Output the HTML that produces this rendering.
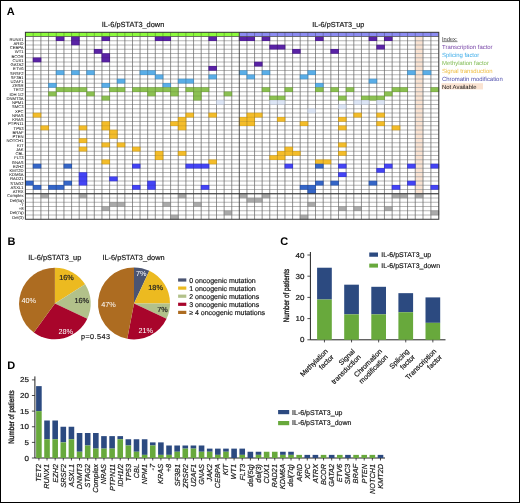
<!DOCTYPE html>
<html><head><meta charset="utf-8"><style>
html,body{margin:0;padding:0;background:#fff;}
#fig{position:relative;width:520px;height:503px;overflow:hidden;font-family:'Liberation Sans', sans-serif;will-change:transform;}
#fig svg{position:absolute;left:0;top:0;}
text{text-rendering:geometricPrecision;}
#frame{position:absolute;left:0;top:0;width:520px;height:503px;box-sizing:border-box;border:1px solid #000;}
</style></head><body>
<div id="fig">
<svg width="520" height="503" viewBox="0 0 520 503" font-family="'Liberation Sans', sans-serif" text-rendering="geometricPrecision">
<rect x="25.4" y="32.3" width="213.9" height="4.200000000000003" fill="#8cfa3c"/>
<rect x="239.3" y="32.3" width="199.5" height="4.200000000000003" fill="#8c8cf2"/>
<rect x="415.25" y="36.5" width="7.75" height="157.25" fill="#fae3d2"/>
<path d="M25.4 40.75H438.80M25.4 45.00H438.80M25.4 49.25H438.80M25.4 53.50H438.80M25.4 57.75H438.80M25.4 62.00H438.80M25.4 66.25H438.80M25.4 70.50H438.80M25.4 74.75H438.80M25.4 79.00H438.80M25.4 83.25H438.80M25.4 87.50H438.80M25.4 91.75H438.80M25.4 96.00H438.80M25.4 100.25H438.80M25.4 104.50H438.80M25.4 108.75H438.80M25.4 113.00H438.80M25.4 117.25H438.80M25.4 121.50H438.80M25.4 125.75H438.80M25.4 130.00H438.80M25.4 134.25H438.80M25.4 138.50H438.80M25.4 142.75H438.80M25.4 147.00H438.80M25.4 151.25H438.80M25.4 155.50H438.80M25.4 159.75H438.80M25.4 164.00H438.80M25.4 168.25H438.80M25.4 172.50H438.80M25.4 176.75H438.80M25.4 181.00H438.80M25.4 185.25H438.80M25.4 189.50H438.80M25.4 193.75H438.80M25.4 198.00H438.80M25.4 202.25H438.80M25.4 206.50H438.80M25.4 210.75H438.80M25.4 215.00H438.80" stroke="#bdbdbd" stroke-width="0.8" fill="none"/>
<path d="M33.20 36.5V219.25M40.90 36.5V219.25M48.55 36.5V219.25M56.25 36.5V219.25M63.95 36.5V219.25M71.60 36.5V219.25M79.20 36.5V219.25M86.75 36.5V219.25M94.30 36.5V219.25M101.95 36.5V219.25M109.60 36.5V219.25M117.25 36.5V219.25M124.85 36.5V219.25M132.50 36.5V219.25M140.05 36.5V219.25M147.65 36.5V219.25M155.30 36.5V219.25M162.95 36.5V219.25M170.60 36.5V219.25M178.25 36.5V219.25M185.90 36.5V219.25M193.55 36.5V219.25M201.20 36.5V219.25M208.85 36.5V219.25M216.50 36.5V219.25M224.15 36.5V219.25M231.75 36.5V219.25M246.95 36.5V219.25M254.55 36.5V219.25M262.15 36.5V219.25M269.75 36.5V219.25M277.40 36.5V219.25M284.95 36.5V219.25M292.60 36.5V219.25M300.20 36.5V219.25M307.85 36.5V219.25M315.50 36.5V219.25M323.20 36.5V219.25M330.85 36.5V219.25M338.50 36.5V219.25M346.15 36.5V219.25M353.80 36.5V219.25M361.45 36.5V219.25M369.10 36.5V219.25M376.75 36.5V219.25M384.45 36.5V219.25M392.15 36.5V219.25M399.85 36.5V219.25M407.55 36.5V219.25M415.25 36.5V219.25M423.00 36.5V219.25M430.90 36.5V219.25" stroke="#9f9f9f" stroke-width="0.8" fill="none"/>
<rect x="55.83" y="36.25" width="8.54" height="4.75" fill="#5a23a6"/>
<rect x="71.18" y="36.25" width="8.44" height="4.75" fill="#5a23a6"/>
<rect x="101.53" y="36.25" width="8.49" height="4.75" fill="#5a23a6"/>
<rect x="154.88" y="36.25" width="8.49" height="4.75" fill="#5a23a6"/>
<rect x="162.53" y="36.25" width="8.49" height="4.75" fill="#5a23a6"/>
<rect x="208.43" y="36.25" width="8.49" height="4.75" fill="#5a23a6"/>
<rect x="238.88" y="36.25" width="8.49" height="4.75" fill="#5a23a6"/>
<rect x="246.53" y="36.25" width="8.44" height="4.75" fill="#5a23a6"/>
<rect x="261.73" y="36.25" width="8.44" height="4.75" fill="#5a23a6"/>
<rect x="315.08" y="36.25" width="8.54" height="4.75" fill="#5a23a6"/>
<rect x="368.68" y="36.25" width="8.49" height="4.75" fill="#5a23a6"/>
<rect x="384.03" y="36.25" width="8.54" height="4.75" fill="#5a23a6"/>
<rect x="71.18" y="40.50" width="8.44" height="4.75" fill="#5a23a6"/>
<rect x="269.33" y="44.75" width="8.49" height="4.75" fill="#5a23a6"/>
<rect x="276.98" y="44.75" width="8.39" height="4.75" fill="#5a23a6"/>
<rect x="376.33" y="44.75" width="8.54" height="4.75" fill="#5a23a6"/>
<rect x="93.88" y="49.00" width="8.49" height="4.75" fill="#5a23a6"/>
<rect x="292.18" y="49.00" width="8.44" height="4.75" fill="#5a23a6"/>
<rect x="330.43" y="49.00" width="8.49" height="4.75" fill="#5a23a6"/>
<rect x="101.53" y="53.25" width="8.49" height="4.75" fill="#5a23a6"/>
<rect x="32.78" y="57.50" width="8.54" height="4.75" fill="#5a23a6"/>
<rect x="101.53" y="57.50" width="8.49" height="4.75" fill="#5a23a6"/>
<rect x="254.13" y="61.75" width="8.44" height="4.75" fill="#5a23a6"/>
<rect x="208.43" y="66.00" width="8.49" height="4.75" fill="#5a23a6"/>
<rect x="55.83" y="70.25" width="8.54" height="4.75" fill="#5aaee8"/>
<rect x="71.18" y="70.25" width="8.44" height="4.75" fill="#5aaee8"/>
<rect x="86.33" y="70.25" width="8.39" height="4.75" fill="#5aaee8"/>
<rect x="139.63" y="70.25" width="8.44" height="4.75" fill="#5aaee8"/>
<rect x="147.23" y="70.25" width="8.49" height="4.75" fill="#5aaee8"/>
<rect x="238.88" y="70.25" width="8.49" height="4.75" fill="#5aaee8"/>
<rect x="261.73" y="70.25" width="8.44" height="4.75" fill="#5aaee8"/>
<rect x="307.43" y="70.25" width="8.49" height="4.75" fill="#5aaee8"/>
<rect x="407.13" y="70.25" width="8.54" height="4.75" fill="#5aaee8"/>
<rect x="422.58" y="70.25" width="8.74" height="4.75" fill="#5aaee8"/>
<rect x="154.88" y="74.50" width="8.49" height="4.75" fill="#5aaee8"/>
<rect x="208.43" y="74.50" width="8.49" height="4.75" fill="#5aaee8"/>
<rect x="246.53" y="74.50" width="8.44" height="4.75" fill="#5aaee8"/>
<rect x="299.78" y="74.50" width="8.49" height="4.75" fill="#5aaee8"/>
<rect x="116.83" y="78.75" width="8.44" height="4.75" fill="#5aaee8"/>
<rect x="177.83" y="78.75" width="8.49" height="4.75" fill="#5aaee8"/>
<rect x="185.48" y="78.75" width="8.49" height="4.75" fill="#5aaee8"/>
<rect x="368.68" y="78.75" width="8.49" height="4.75" fill="#5aaee8"/>
<rect x="48.13" y="83.00" width="8.54" height="4.75" fill="#5aaee8"/>
<rect x="101.53" y="83.00" width="8.49" height="4.75" fill="#5aaee8"/>
<rect x="162.53" y="83.00" width="8.49" height="4.75" fill="#5aaee8"/>
<rect x="315.08" y="83.00" width="8.54" height="4.75" fill="#5aaee8"/>
<rect x="55.83" y="87.25" width="8.54" height="4.75" fill="#8cc152"/>
<rect x="63.53" y="87.25" width="8.49" height="4.75" fill="#8cc152"/>
<rect x="71.18" y="87.25" width="8.44" height="4.75" fill="#8cc152"/>
<rect x="78.78" y="87.25" width="8.39" height="4.75" fill="#8cc152"/>
<rect x="109.18" y="87.25" width="8.49" height="4.75" fill="#8cc152"/>
<rect x="116.83" y="87.25" width="8.44" height="4.75" fill="#8cc152"/>
<rect x="132.08" y="87.25" width="8.39" height="4.75" fill="#8cc152"/>
<rect x="139.63" y="87.25" width="8.44" height="4.75" fill="#8cc152"/>
<rect x="147.23" y="87.25" width="8.49" height="4.75" fill="#8cc152"/>
<rect x="154.88" y="87.25" width="8.49" height="4.75" fill="#8cc152"/>
<rect x="162.53" y="87.25" width="8.49" height="4.75" fill="#8cc152"/>
<rect x="170.18" y="87.25" width="8.49" height="4.75" fill="#8cc152"/>
<rect x="185.48" y="87.25" width="8.49" height="4.75" fill="#8cc152"/>
<rect x="193.13" y="87.25" width="8.49" height="4.75" fill="#8cc152"/>
<rect x="200.78" y="87.25" width="8.49" height="4.75" fill="#8cc152"/>
<rect x="261.73" y="87.25" width="8.44" height="4.75" fill="#8cc152"/>
<rect x="284.53" y="87.25" width="8.49" height="4.75" fill="#8cc152"/>
<rect x="315.08" y="87.25" width="8.54" height="4.75" fill="#8cc152"/>
<rect x="330.43" y="87.25" width="8.49" height="4.75" fill="#8cc152"/>
<rect x="345.73" y="87.25" width="8.49" height="4.75" fill="#8cc152"/>
<rect x="391.73" y="87.25" width="8.54" height="4.75" fill="#8cc152"/>
<rect x="399.43" y="87.25" width="8.54" height="4.75" fill="#8cc152"/>
<rect x="430.48" y="87.25" width="8.74" height="4.75" fill="#8cc152"/>
<rect x="48.13" y="91.50" width="8.54" height="4.75" fill="#8cc152"/>
<rect x="86.33" y="91.50" width="8.39" height="4.75" fill="#8cc152"/>
<rect x="147.23" y="91.50" width="8.49" height="4.75" fill="#8cc152"/>
<rect x="170.18" y="91.50" width="8.49" height="4.75" fill="#8cc152"/>
<rect x="193.13" y="91.50" width="8.49" height="4.75" fill="#8cc152"/>
<rect x="223.73" y="91.50" width="8.44" height="4.75" fill="#8cc152"/>
<rect x="384.03" y="91.50" width="8.54" height="4.75" fill="#8cc152"/>
<rect x="101.53" y="95.75" width="8.49" height="4.75" fill="#8cc152"/>
<rect x="193.13" y="95.75" width="8.49" height="4.75" fill="#8cc152"/>
<rect x="269.33" y="95.75" width="8.49" height="4.75" fill="#8cc152"/>
<rect x="276.98" y="95.75" width="8.39" height="4.75" fill="#8cc152"/>
<rect x="338.08" y="95.75" width="8.49" height="4.75" fill="#8cc152"/>
<rect x="361.03" y="95.75" width="8.49" height="4.75" fill="#8cc152"/>
<rect x="368.68" y="95.75" width="8.49" height="4.75" fill="#8cc152"/>
<rect x="376.33" y="95.75" width="8.54" height="4.75" fill="#8cc152"/>
<rect x="216.08" y="100.00" width="8.49" height="4.75" fill="#dde6f6"/>
<rect x="269.33" y="100.00" width="8.49" height="4.75" fill="#dde6f6"/>
<rect x="276.98" y="100.00" width="8.39" height="4.75" fill="#dde6f6"/>
<rect x="353.38" y="100.00" width="8.49" height="4.75" fill="#dde6f6"/>
<rect x="361.03" y="100.00" width="8.49" height="4.75" fill="#dde6f6"/>
<rect x="376.33" y="100.00" width="8.54" height="4.75" fill="#dde6f6"/>
<rect x="338.08" y="104.25" width="8.49" height="4.75" fill="#dde6f6"/>
<rect x="307.43" y="108.50" width="8.49" height="4.75" fill="#dde6f6"/>
<rect x="32.78" y="112.75" width="8.54" height="4.75" fill="#f4bd2a"/>
<rect x="185.48" y="112.75" width="8.49" height="4.75" fill="#f4bd2a"/>
<rect x="208.43" y="112.75" width="8.49" height="4.75" fill="#f4bd2a"/>
<rect x="246.53" y="112.75" width="8.44" height="4.75" fill="#f4bd2a"/>
<rect x="254.13" y="112.75" width="8.44" height="4.75" fill="#f4bd2a"/>
<rect x="353.38" y="112.75" width="8.49" height="4.75" fill="#f4bd2a"/>
<rect x="376.33" y="112.75" width="8.54" height="4.75" fill="#f4bd2a"/>
<rect x="177.83" y="117.00" width="8.49" height="4.75" fill="#f4bd2a"/>
<rect x="238.88" y="117.00" width="8.49" height="4.75" fill="#f4bd2a"/>
<rect x="246.53" y="117.00" width="8.44" height="4.75" fill="#f4bd2a"/>
<rect x="276.98" y="117.00" width="8.39" height="4.75" fill="#f4bd2a"/>
<rect x="338.08" y="117.00" width="8.49" height="4.75" fill="#f4bd2a"/>
<rect x="101.53" y="121.25" width="8.49" height="4.75" fill="#f4bd2a"/>
<rect x="170.18" y="121.25" width="8.49" height="4.75" fill="#f4bd2a"/>
<rect x="177.83" y="121.25" width="8.49" height="4.75" fill="#f4bd2a"/>
<rect x="238.88" y="121.25" width="8.49" height="4.75" fill="#f4bd2a"/>
<rect x="246.53" y="121.25" width="8.44" height="4.75" fill="#f4bd2a"/>
<rect x="299.78" y="121.25" width="8.49" height="4.75" fill="#f4bd2a"/>
<rect x="376.33" y="121.25" width="8.54" height="4.75" fill="#f4bd2a"/>
<rect x="40.48" y="125.50" width="8.49" height="4.75" fill="#f4bd2a"/>
<rect x="78.78" y="125.50" width="8.39" height="4.75" fill="#f4bd2a"/>
<rect x="101.53" y="125.50" width="8.49" height="4.75" fill="#f4bd2a"/>
<rect x="177.83" y="125.50" width="8.49" height="4.75" fill="#f4bd2a"/>
<rect x="338.08" y="125.50" width="8.49" height="4.75" fill="#f4bd2a"/>
<rect x="391.73" y="125.50" width="8.54" height="4.75" fill="#f4bd2a"/>
<rect x="109.18" y="129.75" width="8.49" height="4.75" fill="#f4bd2a"/>
<rect x="109.18" y="134.00" width="8.49" height="4.75" fill="#f4bd2a"/>
<rect x="78.78" y="138.25" width="8.39" height="4.75" fill="#f4bd2a"/>
<rect x="101.53" y="142.50" width="8.49" height="4.75" fill="#f4bd2a"/>
<rect x="116.83" y="142.50" width="8.44" height="4.75" fill="#f4bd2a"/>
<rect x="338.08" y="142.50" width="8.49" height="4.75" fill="#f4bd2a"/>
<rect x="78.78" y="146.75" width="8.39" height="4.75" fill="#f4bd2a"/>
<rect x="132.08" y="146.75" width="8.39" height="4.75" fill="#f4bd2a"/>
<rect x="284.53" y="146.75" width="8.49" height="4.75" fill="#f4bd2a"/>
<rect x="154.88" y="151.00" width="8.49" height="4.75" fill="#f4bd2a"/>
<rect x="177.83" y="151.00" width="8.49" height="4.75" fill="#f4bd2a"/>
<rect x="276.98" y="151.00" width="8.39" height="4.75" fill="#f4bd2a"/>
<rect x="284.53" y="151.00" width="8.49" height="4.75" fill="#f4bd2a"/>
<rect x="292.18" y="151.00" width="8.44" height="4.75" fill="#f4bd2a"/>
<rect x="338.08" y="151.00" width="8.49" height="4.75" fill="#f4bd2a"/>
<rect x="154.88" y="155.25" width="8.49" height="4.75" fill="#f4bd2a"/>
<rect x="269.33" y="155.25" width="8.49" height="4.75" fill="#f4bd2a"/>
<rect x="276.98" y="155.25" width="8.39" height="4.75" fill="#f4bd2a"/>
<rect x="101.53" y="159.50" width="8.49" height="4.75" fill="#f4bd2a"/>
<rect x="208.43" y="159.50" width="8.49" height="4.75" fill="#f4bd2a"/>
<rect x="315.08" y="159.50" width="8.54" height="4.75" fill="#f4bd2a"/>
<rect x="322.78" y="159.50" width="8.49" height="4.75" fill="#f4bd2a"/>
<rect x="40.48" y="193.50" width="8.49" height="4.75" fill="#aaaaaa"/>
<rect x="78.78" y="193.50" width="8.39" height="4.75" fill="#aaaaaa"/>
<rect x="177.83" y="193.50" width="8.49" height="4.75" fill="#aaaaaa"/>
<rect x="238.88" y="193.50" width="8.49" height="4.75" fill="#aaaaaa"/>
<rect x="261.73" y="193.50" width="8.44" height="4.75" fill="#aaaaaa"/>
<rect x="391.73" y="193.50" width="8.54" height="4.75" fill="#aaaaaa"/>
<rect x="399.43" y="193.50" width="8.54" height="4.75" fill="#aaaaaa"/>
<rect x="414.83" y="193.50" width="8.59" height="4.75" fill="#aaaaaa"/>
<rect x="246.53" y="197.75" width="8.44" height="4.75" fill="#aaaaaa"/>
<rect x="254.13" y="197.75" width="8.44" height="4.75" fill="#aaaaaa"/>
<rect x="109.18" y="202.00" width="8.49" height="4.75" fill="#aaaaaa"/>
<rect x="116.83" y="202.00" width="8.44" height="4.75" fill="#aaaaaa"/>
<rect x="162.53" y="202.00" width="8.49" height="4.75" fill="#aaaaaa"/>
<rect x="193.13" y="202.00" width="8.49" height="4.75" fill="#aaaaaa"/>
<rect x="307.43" y="202.00" width="8.49" height="4.75" fill="#aaaaaa"/>
<rect x="101.53" y="206.25" width="8.49" height="4.75" fill="#aaaaaa"/>
<rect x="338.08" y="206.25" width="8.49" height="4.75" fill="#aaaaaa"/>
<rect x="353.38" y="206.25" width="8.49" height="4.75" fill="#aaaaaa"/>
<rect x="384.03" y="206.25" width="8.54" height="4.75" fill="#aaaaaa"/>
<rect x="223.73" y="210.50" width="8.44" height="4.75" fill="#aaaaaa"/>
<rect x="430.48" y="210.50" width="8.74" height="4.75" fill="#aaaaaa"/>
<rect x="170.18" y="214.75" width="8.49" height="4.75" fill="#aaaaaa"/>
<rect x="299.78" y="214.75" width="8.49" height="4.75" fill="#aaaaaa"/>
<rect x="32.78" y="163.75" width="8.54" height="4.75" fill="#3566c8"/>
<rect x="63.53" y="163.75" width="8.49" height="4.75" fill="#3566c8"/>
<rect x="315.08" y="163.75" width="8.54" height="4.75" fill="#3566c8"/>
<rect x="132.08" y="163.75" width="8.39" height="4.75" fill="#4444f6"/>
<rect x="185.48" y="163.75" width="8.49" height="4.75" fill="#4444f6"/>
<rect x="193.13" y="163.75" width="8.49" height="4.75" fill="#4444f6"/>
<rect x="200.78" y="163.75" width="8.49" height="4.75" fill="#4444f6"/>
<rect x="284.53" y="163.75" width="8.49" height="4.75" fill="#4444f6"/>
<rect x="338.08" y="163.75" width="8.49" height="4.75" fill="#4444f6"/>
<rect x="384.03" y="163.75" width="8.54" height="4.75" fill="#4444f6"/>
<rect x="407.13" y="163.75" width="8.54" height="4.75" fill="#4444f6"/>
<rect x="430.48" y="163.75" width="8.74" height="4.75" fill="#4444f6"/>
<rect x="376.33" y="168.00" width="8.54" height="4.75" fill="#4444f6"/>
<rect x="78.78" y="172.25" width="8.39" height="4.75" fill="#4444f6"/>
<rect x="338.08" y="172.25" width="8.49" height="4.75" fill="#4444f6"/>
<rect x="78.78" y="176.50" width="8.39" height="4.75" fill="#4444f6"/>
<rect x="109.18" y="176.50" width="8.49" height="4.75" fill="#4444f6"/>
<rect x="24.98" y="180.75" width="8.64" height="4.75" fill="#3566c8"/>
<rect x="63.53" y="180.75" width="8.49" height="4.75" fill="#3566c8"/>
<rect x="315.08" y="180.75" width="8.54" height="4.75" fill="#3566c8"/>
<rect x="330.43" y="180.75" width="8.49" height="4.75" fill="#3566c8"/>
<rect x="368.68" y="180.75" width="8.49" height="4.75" fill="#3566c8"/>
<rect x="78.78" y="180.75" width="8.39" height="4.75" fill="#4444f6"/>
<rect x="147.23" y="180.75" width="8.49" height="4.75" fill="#4444f6"/>
<rect x="407.13" y="180.75" width="8.54" height="4.75" fill="#4444f6"/>
<rect x="32.78" y="185.00" width="8.54" height="4.75" fill="#3566c8"/>
<rect x="48.13" y="185.00" width="8.54" height="4.75" fill="#3566c8"/>
<rect x="55.83" y="185.00" width="8.54" height="4.75" fill="#3566c8"/>
<rect x="299.78" y="185.00" width="8.49" height="4.75" fill="#3566c8"/>
<rect x="307.43" y="185.00" width="8.49" height="4.75" fill="#3566c8"/>
<rect x="132.08" y="185.00" width="8.39" height="4.75" fill="#4444f6"/>
<rect x="147.23" y="185.00" width="8.49" height="4.75" fill="#4444f6"/>
<rect x="200.78" y="185.00" width="8.49" height="4.75" fill="#4444f6"/>
<rect x="391.73" y="185.00" width="8.54" height="4.75" fill="#4444f6"/>
<rect x="430.48" y="185.00" width="8.74" height="4.75" fill="#4444f6"/>
<rect x="307.43" y="189.25" width="8.49" height="4.75" fill="#3566c8"/>
<path d="M25.4 40.75H438.80M25.4 45.00H438.80M25.4 49.25H438.80M25.4 53.50H438.80M25.4 57.75H438.80M25.4 62.00H438.80M25.4 66.25H438.80M25.4 70.50H438.80M25.4 74.75H438.80M25.4 79.00H438.80M25.4 83.25H438.80M25.4 87.50H438.80M25.4 91.75H438.80M25.4 96.00H438.80M25.4 100.25H438.80M25.4 104.50H438.80M25.4 108.75H438.80M25.4 113.00H438.80M25.4 117.25H438.80M25.4 121.50H438.80M25.4 125.75H438.80M25.4 130.00H438.80M25.4 134.25H438.80M25.4 138.50H438.80M25.4 142.75H438.80M25.4 147.00H438.80M25.4 151.25H438.80M25.4 155.50H438.80M25.4 159.75H438.80M25.4 164.00H438.80M25.4 168.25H438.80M25.4 172.50H438.80M25.4 176.75H438.80M25.4 181.00H438.80M25.4 185.25H438.80M25.4 189.50H438.80M25.4 193.75H438.80M25.4 198.00H438.80M25.4 202.25H438.80M25.4 206.50H438.80M25.4 210.75H438.80M25.4 215.00H438.80" stroke="#000" stroke-opacity="0.13" stroke-width="0.8" fill="none"/>
<path d="M33.20 36.5V219.25M40.90 36.5V219.25M48.55 36.5V219.25M56.25 36.5V219.25M63.95 36.5V219.25M71.60 36.5V219.25M79.20 36.5V219.25M86.75 36.5V219.25M94.30 36.5V219.25M101.95 36.5V219.25M109.60 36.5V219.25M117.25 36.5V219.25M124.85 36.5V219.25M132.50 36.5V219.25M140.05 36.5V219.25M147.65 36.5V219.25M155.30 36.5V219.25M162.95 36.5V219.25M170.60 36.5V219.25M178.25 36.5V219.25M185.90 36.5V219.25M193.55 36.5V219.25M201.20 36.5V219.25M208.85 36.5V219.25M216.50 36.5V219.25M224.15 36.5V219.25M231.75 36.5V219.25M246.95 36.5V219.25M254.55 36.5V219.25M262.15 36.5V219.25M269.75 36.5V219.25M277.40 36.5V219.25M284.95 36.5V219.25M292.60 36.5V219.25M300.20 36.5V219.25M307.85 36.5V219.25M315.50 36.5V219.25M323.20 36.5V219.25M330.85 36.5V219.25M338.50 36.5V219.25M346.15 36.5V219.25M353.80 36.5V219.25M361.45 36.5V219.25M369.10 36.5V219.25M376.75 36.5V219.25M384.45 36.5V219.25M392.15 36.5V219.25M399.85 36.5V219.25M407.55 36.5V219.25M415.25 36.5V219.25M423.00 36.5V219.25M430.90 36.5V219.25" stroke="#000" stroke-opacity="0.22" stroke-width="0.8" fill="none"/>
<path d="M33.20 32.3V36.5M40.90 32.3V36.5M48.55 32.3V36.5M56.25 32.3V36.5M63.95 32.3V36.5M71.60 32.3V36.5M79.20 32.3V36.5M86.75 32.3V36.5M94.30 32.3V36.5M101.95 32.3V36.5M109.60 32.3V36.5M117.25 32.3V36.5M124.85 32.3V36.5M132.50 32.3V36.5M140.05 32.3V36.5M147.65 32.3V36.5M155.30 32.3V36.5M162.95 32.3V36.5M170.60 32.3V36.5M178.25 32.3V36.5M185.90 32.3V36.5M193.55 32.3V36.5M201.20 32.3V36.5M208.85 32.3V36.5M216.50 32.3V36.5M224.15 32.3V36.5M231.75 32.3V36.5M239.30 32.3V36.5M246.95 32.3V36.5M254.55 32.3V36.5M262.15 32.3V36.5M269.75 32.3V36.5M277.40 32.3V36.5M284.95 32.3V36.5M292.60 32.3V36.5M300.20 32.3V36.5M307.85 32.3V36.5M315.50 32.3V36.5M323.20 32.3V36.5M330.85 32.3V36.5M338.50 32.3V36.5M346.15 32.3V36.5M353.80 32.3V36.5M361.45 32.3V36.5M369.10 32.3V36.5M376.75 32.3V36.5M384.45 32.3V36.5M392.15 32.3V36.5M399.85 32.3V36.5M407.55 32.3V36.5M415.25 32.3V36.5M423.00 32.3V36.5M430.90 32.3V36.5" stroke="#000" stroke-opacity="0.3" stroke-width="0.8" fill="none"/>
<path d="M25.4 36.5H438.80" stroke="#555" stroke-width="0.8"/>
<path d="M239.30 32.3V219.25" stroke="#444" stroke-width="0.9"/>
<path d="M25.4 193.75H438.80" stroke="#333" stroke-width="1.1"/>
<rect x="25.4" y="32.3" width="413.40" height="186.95" fill="none" stroke="#333" stroke-width="1"/>
<text x="23.6" y="40.62" font-size="4.2" text-anchor="end" fill="#000">RUNX1</text>
<text x="23.6" y="44.86" font-size="4.2" text-anchor="end" fill="#000">ARID</text>
<text x="23.6" y="49.10" font-size="4.2" text-anchor="end" fill="#000">CEBPA</text>
<text x="23.6" y="53.34" font-size="4.2" text-anchor="end" fill="#000">WT1</text>
<text x="23.6" y="57.58" font-size="4.2" text-anchor="end" fill="#000">BCOR</text>
<text x="23.6" y="61.82" font-size="4.2" text-anchor="end" fill="#000">CUX1</text>
<text x="23.6" y="66.05" font-size="4.2" text-anchor="end" fill="#000">GATA2</text>
<text x="23.6" y="70.29" font-size="4.2" text-anchor="end" fill="#000">ETV6</text>
<text x="23.6" y="74.53" font-size="4.2" text-anchor="end" fill="#000">SRSF2</text>
<text x="23.6" y="78.77" font-size="4.2" text-anchor="end" fill="#000">SF3B1</text>
<text x="23.6" y="83.01" font-size="4.2" text-anchor="end" fill="#000">U2AF1</text>
<text x="23.6" y="87.24" font-size="4.2" text-anchor="end" fill="#000">ZRSR</text>
<text x="23.6" y="91.48" font-size="4.2" text-anchor="end" fill="#000">TET2</text>
<text x="23.6" y="95.72" font-size="4.2" text-anchor="end" fill="#000">IDH 1/2</text>
<text x="23.6" y="99.96" font-size="4.2" text-anchor="end" fill="#000">DNMT3A</text>
<text x="23.6" y="104.20" font-size="4.2" text-anchor="end" fill="#000">NPM1</text>
<text x="23.6" y="108.43" font-size="4.2" text-anchor="end" fill="#000">SMC3</text>
<text x="23.6" y="112.67" font-size="4.2" text-anchor="end" fill="#000">XPC</text>
<text x="23.6" y="116.91" font-size="4.2" text-anchor="end" fill="#000">NRAS</text>
<text x="23.6" y="121.15" font-size="4.2" text-anchor="end" fill="#000">KRAS</text>
<text x="23.6" y="125.39" font-size="4.2" text-anchor="end" fill="#000">PTPN11</text>
<text x="23.6" y="129.62" font-size="4.2" text-anchor="end" fill="#000">TP53</text>
<text x="23.6" y="133.86" font-size="4.2" text-anchor="end" fill="#000">BRAF</text>
<text x="23.6" y="138.10" font-size="4.2" text-anchor="end" fill="#000">PTEN</text>
<text x="23.6" y="142.34" font-size="4.2" text-anchor="end" fill="#000">NOTCH1</text>
<text x="23.6" y="146.58" font-size="4.2" text-anchor="end" fill="#000">KIT</text>
<text x="23.6" y="150.82" font-size="4.2" text-anchor="end" fill="#000">JAK</text>
<text x="23.6" y="155.05" font-size="4.2" text-anchor="end" fill="#000">CBL</text>
<text x="23.6" y="159.29" font-size="4.2" text-anchor="end" fill="#000">FLT3</text>
<text x="23.6" y="163.53" font-size="4.2" text-anchor="end" fill="#000">GNAS</text>
<text x="23.6" y="167.77" font-size="4.2" text-anchor="end" fill="#000">EZH2</text>
<text x="23.6" y="172.01" font-size="4.2" text-anchor="end" fill="#000">KMT2D</text>
<text x="23.6" y="176.24" font-size="4.2" text-anchor="end" fill="#000">KDM6A</text>
<text x="23.6" y="180.48" font-size="4.2" text-anchor="end" fill="#000">RAD21</text>
<text x="23.6" y="184.72" font-size="4.2" text-anchor="end" fill="#000">STAG2</text>
<text x="23.6" y="188.96" font-size="4.2" text-anchor="end" fill="#000">ASXL1</text>
<text x="23.6" y="193.20" font-size="4.2" text-anchor="end" fill="#000">ATRX</text>
<text x="23.6" y="197.43" font-size="4.2" text-anchor="end" fill="#000">Complex</text>
<text x="23.6" y="201.67" font-size="4.2" text-anchor="end" fill="#000">Del(5q)</text>
<text x="23.6" y="205.91" font-size="4.2" text-anchor="end" fill="#000">-7</text>
<text x="23.6" y="210.15" font-size="4.2" text-anchor="end" fill="#000">+8</text>
<text x="23.6" y="214.39" font-size="4.2" text-anchor="end" fill="#000">Del(7q)</text>
<text x="23.6" y="218.62" font-size="4.2" text-anchor="end" fill="#000">Del(3)</text>
<text x="133" y="27.3" font-size="7.4" text-anchor="middle" fill="#141414" stroke="#141414" stroke-width="0.18">IL-6/pSTAT3_down</text>
<text x="338.2" y="27.3" font-size="7.25" text-anchor="middle" fill="#141414" stroke="#141414" stroke-width="0.18">IL-6/pSTAT3_up</text>
<text x="442" y="40.5" font-size="5.7" fill="#333" text-decoration="underline">Index:</text>
<text x="442" y="48.50" font-size="5.95" fill="#7846a8">Transcription factor</text>
<text x="442" y="56.50" font-size="5.95" fill="#3cace9">Splicing factor</text>
<text x="442" y="64.50" font-size="5.95" fill="#7fba52">Methylation factor</text>
<text x="442" y="72.50" font-size="5.95" fill="#eebc40">Signal transduction</text>
<text x="442" y="80.50" font-size="5.95" fill="#5050ae">Chromatin modification</text>
<rect x="441.5" y="83.20" width="41.5" height="6.2" fill="#fae3d2"/>
<text x="442" y="88.50" font-size="5.95" fill="#141414">Not Available</text>
<text x="6.8" y="15" font-size="11" font-weight="bold" fill="#000">A</text>
<text x="7.5" y="245" font-size="11" font-weight="bold" fill="#000">B</text>
<text x="280.3" y="245" font-size="11" font-weight="bold" fill="#000">C</text>
<text x="7.3" y="369.2" font-size="11" font-weight="bold" fill="#000">D</text>
<path d="M54.9 303.5L54.90 267.70A35.8 35.8 0 0 1 85.13 284.32Z" fill="#ecba20"/><path d="M54.9 303.5L85.13 284.32A35.8 35.8 0 0 1 87.29 318.74Z" fill="#b2c18a"/><path d="M54.9 303.5L87.29 318.74A35.8 35.8 0 0 1 33.86 332.46Z" fill="#a8052b"/><path d="M54.9 303.5L33.86 332.46A35.8 35.8 0 0 1 54.90 267.70Z" fill="#ad6c21"/>
<path d="M134.0 303.4L134.00 267.40A36.0 36.0 0 0 1 149.33 270.83Z" fill="#4a5472"/><path d="M134.0 303.4L149.33 270.83A36.0 36.0 0 0 1 170.00 303.40Z" fill="#ecba20"/><path d="M134.0 303.4L170.00 303.40A36.0 36.0 0 0 1 166.57 318.73Z" fill="#b2c18a"/><path d="M134.0 303.4L166.57 318.73A36.0 36.0 0 0 1 127.25 338.76Z" fill="#a8052b"/><path d="M134.0 303.4L127.25 338.76A36.0 36.0 0 0 1 134.00 267.40Z" fill="#ad6c21"/>
<text x="54.7" y="260" font-size="7.4" text-anchor="middle" fill="#141414" stroke="#141414" stroke-width="0.18">IL-6/pSTAT3_up</text>
<text x="133.5" y="260.3" font-size="7.34" text-anchor="middle" fill="#141414" stroke="#141414" stroke-width="0.18">IL-6/pSTAT3_down</text>
<text x="66.5" y="280" font-size="7.3" text-anchor="middle" fill="#222" stroke="#222" stroke-width="0.18">16%</text>
<text x="81.75" y="302.5" font-size="7.3" text-anchor="middle" fill="#222" stroke="#222" stroke-width="0.18">16%</text>
<text x="65.75" y="333.5" font-size="7.3" text-anchor="middle" fill="#fff">28%</text>
<text x="28.75" y="303.3" font-size="7.3" text-anchor="middle" fill="#fff">40%</text>
<text x="141.3" y="276.3" font-size="7.3" text-anchor="middle" fill="#fff">7%</text>
<text x="155.6" y="289.8" font-size="7.3" text-anchor="middle" fill="#222" stroke="#222" stroke-width="0.18">18%</text>
<text x="162.6" y="312.1" font-size="7.3" text-anchor="middle" fill="#222" stroke="#222" stroke-width="0.18">7%</text>
<text x="145.7" y="332.6" font-size="7.3" text-anchor="middle" fill="#fff">21%</text>
<text x="108.5" y="306.7" font-size="7.3" text-anchor="middle" fill="#fff">47%</text>
<text x="80.9" y="338.5" font-size="7.2" letter-spacing="0.5" fill="#141414" stroke="#141414" stroke-width="0.18">p=0.543</text>
<rect x="178.1" y="278.40" width="8.2" height="3.2" fill="#4a5472"/>
<text x="189.2" y="282.50" font-size="7" fill="#141414" stroke="#141414" stroke-width="0.18">0 oncogenic mutation</text>
<rect x="178.1" y="286.50" width="8.2" height="3.2" fill="#ecba20"/>
<text x="189.2" y="290.60" font-size="7" fill="#141414" stroke="#141414" stroke-width="0.18">1 oncogenic mutation</text>
<rect x="178.1" y="294.60" width="8.2" height="3.2" fill="#b2c18a"/>
<text x="189.2" y="298.70" font-size="7" fill="#141414" stroke="#141414" stroke-width="0.18">2 oncogenic mutations</text>
<rect x="178.1" y="302.70" width="8.2" height="3.2" fill="#a8052b"/>
<text x="189.2" y="306.80" font-size="7" fill="#141414" stroke="#141414" stroke-width="0.18">3 oncogenic mutations</text>
<rect x="178.1" y="310.80" width="8.2" height="3.2" fill="#ad6c21"/>
<text x="189.2" y="314.90" font-size="7" fill="#141414" stroke="#141414" stroke-width="0.18">≥ 4 oncogenic mutations</text>
<path d="M310.4 252V339.8H445.5" stroke="#222" stroke-width="1" fill="none"/>
<text transform="translate(304.5 342.30) scale(1.1 1)" font-size="7.3" text-anchor="end" fill="#141414" stroke="#141414" stroke-width="0.18">0</text>
<text transform="translate(304.5 321.10) scale(1.1 1)" font-size="7.3" text-anchor="end" fill="#141414" stroke="#141414" stroke-width="0.18">10</text>
<text transform="translate(304.5 299.90) scale(1.1 1)" font-size="7.3" text-anchor="end" fill="#141414" stroke="#141414" stroke-width="0.18">20</text>
<text transform="translate(304.5 278.70) scale(1.1 1)" font-size="7.3" text-anchor="end" fill="#141414" stroke="#141414" stroke-width="0.18">30</text>
<text transform="translate(304.5 257.50) scale(1.1 1)" font-size="7.3" text-anchor="end" fill="#141414" stroke="#141414" stroke-width="0.18">40</text>
<rect x="317.10" y="267.72" width="14.7" height="31.80" fill="#2c4a80"/>
<rect x="317.10" y="299.52" width="14.7" height="40.28" fill="#68a93c"/>
<rect x="344.20" y="284.68" width="14.7" height="29.68" fill="#2c4a80"/>
<rect x="344.20" y="314.36" width="14.7" height="25.44" fill="#68a93c"/>
<rect x="371.30" y="286.80" width="14.7" height="27.56" fill="#2c4a80"/>
<rect x="371.30" y="314.36" width="14.7" height="25.44" fill="#68a93c"/>
<rect x="398.40" y="293.16" width="14.7" height="19.08" fill="#2c4a80"/>
<rect x="398.40" y="312.24" width="14.7" height="27.56" fill="#68a93c"/>
<rect x="425.50" y="297.40" width="14.7" height="25.44" fill="#2c4a80"/>
<rect x="425.50" y="322.84" width="14.7" height="16.96" fill="#68a93c"/>
<path d="M307.4 339.80H310.4M307.4 318.60H310.4M307.4 297.40H310.4M307.4 276.20H310.4M307.4 255.00H310.4M324.45 339.8V342.40000000000003M351.55 339.8V342.40000000000003M378.65 339.8V342.40000000000003M405.75 339.8V342.40000000000003M432.85 339.8V342.40000000000003" stroke="#222" stroke-width="0.8" fill="none"/>
<rect x="369.25" y="252.5" width="8.75" height="4.25" fill="#2c4a80"/>
<text x="381.25" y="256.9" font-size="6.95" fill="#141414" stroke="#141414" stroke-width="0.18">IL-6/pSTAT3_up</text>
<rect x="369.25" y="263.6" width="8.75" height="4.0" fill="#68a93c"/>
<text x="381.25" y="267.9" font-size="6.95" fill="#141414" stroke="#141414" stroke-width="0.18">IL-6/pSTAT3_down</text>
<text transform="translate(288.9 295.6) rotate(-90) scale(0.79 1)" font-size="8" text-anchor="middle" fill="#141414" stroke="#141414" stroke-width="0.32">Number of patients</text>
<g transform="translate(328.25 351.8) rotate(-45)"><text x="0" y="0" font-size="7" text-anchor="end" fill="#141414" stroke="#141414" stroke-width="0.18">Methylation</text><text x="0" y="8.2" font-size="7" text-anchor="end" fill="#141414" stroke="#141414" stroke-width="0.18">factor</text></g>
<g transform="translate(355.35 351.8) rotate(-45)"><text x="0" y="0" font-size="7" text-anchor="end" fill="#141414" stroke="#141414" stroke-width="0.18">Signal</text><text x="0" y="8.2" font-size="7" text-anchor="end" fill="#141414" stroke="#141414" stroke-width="0.18">transduction</text></g>
<g transform="translate(382.45 351.8) rotate(-45)"><text x="0" y="0" font-size="7" text-anchor="end" fill="#141414" stroke="#141414" stroke-width="0.18">Chromation</text><text x="0" y="8.2" font-size="7" text-anchor="end" fill="#141414" stroke="#141414" stroke-width="0.18">modification</text></g>
<g transform="translate(409.55 351.8) rotate(-45)"><text x="0" y="0" font-size="7" text-anchor="end" fill="#141414" stroke="#141414" stroke-width="0.18">Splicing</text><text x="0" y="8.2" font-size="7" text-anchor="end" fill="#141414" stroke="#141414" stroke-width="0.18">factor</text></g>
<g transform="translate(436.65 351.8) rotate(-45)"><text x="0" y="0" font-size="7" text-anchor="end" fill="#141414" stroke="#141414" stroke-width="0.18">Transcription</text><text x="0" y="8.2" font-size="7" text-anchor="end" fill="#141414" stroke="#141414" stroke-width="0.18">factor</text></g>
<path d="M34.9 376.4V458.0H385" stroke="#222" stroke-width="1" fill="none"/>
<text transform="translate(29.0 460.50) scale(1.1 1)" font-size="7.3" text-anchor="end" fill="#141414" stroke="#141414" stroke-width="0.18">0</text>
<text transform="translate(29.0 444.88) scale(1.1 1)" font-size="7.3" text-anchor="end" fill="#141414" stroke="#141414" stroke-width="0.18">5</text>
<text transform="translate(29.0 429.25) scale(1.1 1)" font-size="7.3" text-anchor="end" fill="#141414" stroke="#141414" stroke-width="0.18">10</text>
<text transform="translate(29.0 413.62) scale(1.1 1)" font-size="7.3" text-anchor="end" fill="#141414" stroke="#141414" stroke-width="0.18">15</text>
<text transform="translate(29.0 398.00) scale(1.1 1)" font-size="7.3" text-anchor="end" fill="#141414" stroke="#141414" stroke-width="0.18">20</text>
<text transform="translate(29.0 382.38) scale(1.1 1)" font-size="7.3" text-anchor="end" fill="#141414" stroke="#141414" stroke-width="0.18">25</text>
<rect x="36.10" y="386.12" width="5.6" height="25.00" fill="#2c4a80"/>
<rect x="36.10" y="411.12" width="5.6" height="46.88" fill="#68a93c"/>
<text transform="translate(41.30 464) rotate(-90)" font-size="7.3" font-style="italic" text-anchor="end" fill="#141414" stroke="#141414" stroke-width="0.18">TET2</text>
<rect x="44.23" y="420.50" width="5.6" height="18.75" fill="#2c4a80"/>
<rect x="44.23" y="439.25" width="5.6" height="18.75" fill="#68a93c"/>
<text transform="translate(49.43 464) rotate(-90)" font-size="7.3" font-style="italic" text-anchor="end" fill="#141414" stroke="#141414" stroke-width="0.18">RUNX1</text>
<rect x="52.37" y="420.50" width="5.6" height="18.75" fill="#2c4a80"/>
<rect x="52.37" y="439.25" width="5.6" height="18.75" fill="#68a93c"/>
<text transform="translate(57.57 464) rotate(-90)" font-size="7.3" font-style="italic" text-anchor="end" fill="#141414" stroke="#141414" stroke-width="0.18">EZH2</text>
<rect x="60.50" y="426.75" width="5.6" height="15.62" fill="#2c4a80"/>
<rect x="60.50" y="442.38" width="5.6" height="15.62" fill="#68a93c"/>
<text transform="translate(65.70 464) rotate(-90)" font-size="7.3" font-style="italic" text-anchor="end" fill="#141414" stroke="#141414" stroke-width="0.18">SRSF2</text>
<rect x="68.63" y="426.75" width="5.6" height="12.50" fill="#2c4a80"/>
<rect x="68.63" y="439.25" width="5.6" height="18.75" fill="#68a93c"/>
<text transform="translate(73.83 464) rotate(-90)" font-size="7.3" font-style="italic" text-anchor="end" fill="#141414" stroke="#141414" stroke-width="0.18">ASXL1</text>
<rect x="76.76" y="433.00" width="5.6" height="18.75" fill="#2c4a80"/>
<rect x="76.76" y="451.75" width="5.6" height="6.25" fill="#68a93c"/>
<text transform="translate(81.96 464) rotate(-90)" font-size="7.3" font-style="italic" text-anchor="end" fill="#141414" stroke="#141414" stroke-width="0.18">DNMT3</text>
<rect x="84.90" y="433.00" width="5.6" height="12.50" fill="#2c4a80"/>
<rect x="84.90" y="445.50" width="5.6" height="12.50" fill="#68a93c"/>
<text transform="translate(90.10 464) rotate(-90)" font-size="7.3" font-style="italic" text-anchor="end" fill="#141414" stroke="#141414" stroke-width="0.18">STAG2</text>
<rect x="93.03" y="433.00" width="5.6" height="15.62" fill="#2c4a80"/>
<rect x="93.03" y="448.62" width="5.6" height="9.38" fill="#68a93c"/>
<text transform="translate(98.23 464) rotate(-90)" font-size="7.3" font-style="italic" text-anchor="end" fill="#141414" stroke="#141414" stroke-width="0.18">Complex</text>
<rect x="101.16" y="436.12" width="5.6" height="12.50" fill="#2c4a80"/>
<rect x="101.16" y="448.62" width="5.6" height="9.38" fill="#68a93c"/>
<text transform="translate(106.36 464) rotate(-90)" font-size="7.3" font-style="italic" text-anchor="end" fill="#141414" stroke="#141414" stroke-width="0.18">NRAS</text>
<rect x="109.30" y="436.12" width="5.6" height="12.50" fill="#2c4a80"/>
<rect x="109.30" y="448.62" width="5.6" height="9.38" fill="#68a93c"/>
<text transform="translate(114.50 464) rotate(-90)" font-size="7.3" font-style="italic" text-anchor="end" fill="#141414" stroke="#141414" stroke-width="0.18">PTPN11</text>
<rect x="117.43" y="436.12" width="5.6" height="3.12" fill="#2c4a80"/>
<rect x="117.43" y="439.25" width="5.6" height="18.75" fill="#68a93c"/>
<text transform="translate(122.63 464) rotate(-90)" font-size="7.3" font-style="italic" text-anchor="end" fill="#141414" stroke="#141414" stroke-width="0.18">IDH1/2</text>
<rect x="125.56" y="439.25" width="5.6" height="6.25" fill="#2c4a80"/>
<rect x="125.56" y="445.50" width="5.6" height="12.50" fill="#68a93c"/>
<text transform="translate(130.76 464) rotate(-90)" font-size="7.3" font-style="italic" text-anchor="end" fill="#141414" stroke="#141414" stroke-width="0.18">TP53</text>
<rect x="133.70" y="439.25" width="5.6" height="12.50" fill="#2c4a80"/>
<rect x="133.70" y="451.75" width="5.6" height="6.25" fill="#68a93c"/>
<text transform="translate(138.90 464) rotate(-90)" font-size="7.3" font-style="italic" text-anchor="end" fill="#141414" stroke="#141414" stroke-width="0.18">CBL</text>
<rect x="141.83" y="439.25" width="5.6" height="15.62" fill="#2c4a80"/>
<rect x="141.83" y="454.88" width="5.6" height="3.12" fill="#68a93c"/>
<text transform="translate(147.03 464) rotate(-90)" font-size="7.3" font-style="italic" text-anchor="end" fill="#141414" stroke="#141414" stroke-width="0.18">NPM1</text>
<rect x="149.96" y="442.38" width="5.6" height="3.12" fill="#2c4a80"/>
<rect x="149.96" y="445.50" width="5.6" height="12.50" fill="#68a93c"/>
<text transform="translate(155.16 464) rotate(-90)" font-size="7.3" font-style="italic" text-anchor="end" fill="#141414" stroke="#141414" stroke-width="0.18">-7</text>
<rect x="158.09" y="442.38" width="5.6" height="12.50" fill="#2c4a80"/>
<rect x="158.09" y="454.88" width="5.6" height="3.12" fill="#68a93c"/>
<text transform="translate(163.30 464) rotate(-90)" font-size="7.3" font-style="italic" text-anchor="end" fill="#141414" stroke="#141414" stroke-width="0.18">KRAS</text>
<rect x="166.23" y="445.50" width="5.6" height="9.38" fill="#2c4a80"/>
<rect x="166.23" y="454.88" width="5.6" height="3.12" fill="#68a93c"/>
<text transform="translate(171.43 464) rotate(-90)" font-size="7.3" font-style="italic" text-anchor="end" fill="#141414" stroke="#141414" stroke-width="0.18">+8</text>
<rect x="174.36" y="445.50" width="5.6" height="6.25" fill="#2c4a80"/>
<rect x="174.36" y="451.75" width="5.6" height="6.25" fill="#68a93c"/>
<text transform="translate(179.56 464) rotate(-90)" font-size="7.3" font-style="italic" text-anchor="end" fill="#141414" stroke="#141414" stroke-width="0.18">SF3B1</text>
<rect x="182.49" y="445.50" width="5.6" height="3.12" fill="#2c4a80"/>
<rect x="182.49" y="448.62" width="5.6" height="9.38" fill="#68a93c"/>
<text transform="translate(187.69 464) rotate(-90)" font-size="7.3" font-style="italic" text-anchor="end" fill="#141414" stroke="#141414" stroke-width="0.18">ZRSR2</text>
<rect x="190.63" y="445.50" width="5.6" height="3.12" fill="#2c4a80"/>
<rect x="190.63" y="448.62" width="5.6" height="9.38" fill="#68a93c"/>
<text transform="translate(195.83 464) rotate(-90)" font-size="7.3" font-style="italic" text-anchor="end" fill="#141414" stroke="#141414" stroke-width="0.18">U2AF1</text>
<rect x="198.76" y="445.50" width="5.6" height="6.25" fill="#2c4a80"/>
<rect x="198.76" y="451.75" width="5.6" height="6.25" fill="#68a93c"/>
<text transform="translate(203.96 464) rotate(-90)" font-size="7.3" font-style="italic" text-anchor="end" fill="#141414" stroke="#141414" stroke-width="0.18">GNAS</text>
<rect x="206.89" y="448.62" width="5.6" height="3.12" fill="#2c4a80"/>
<rect x="206.89" y="451.75" width="5.6" height="6.25" fill="#68a93c"/>
<text transform="translate(212.09 464) rotate(-90)" font-size="7.3" font-style="italic" text-anchor="end" fill="#141414" stroke="#141414" stroke-width="0.18">JAK2</text>
<rect x="215.03" y="448.62" width="5.6" height="6.25" fill="#2c4a80"/>
<rect x="215.03" y="454.88" width="5.6" height="3.12" fill="#68a93c"/>
<text transform="translate(220.23 464) rotate(-90)" font-size="7.3" font-style="italic" text-anchor="end" fill="#141414" stroke="#141414" stroke-width="0.18">CEBPA</text>
<rect x="223.16" y="448.62" width="5.6" height="3.12" fill="#2c4a80"/>
<rect x="223.16" y="451.75" width="5.6" height="6.25" fill="#68a93c"/>
<text transform="translate(228.36 464) rotate(-90)" font-size="7.3" font-style="italic" text-anchor="end" fill="#141414" stroke="#141414" stroke-width="0.18">KIT</text>
<rect x="231.29" y="448.62" width="5.6" height="9.38" fill="#2c4a80"/>
<text transform="translate(236.49 464) rotate(-90)" font-size="7.3" font-style="italic" text-anchor="end" fill="#141414" stroke="#141414" stroke-width="0.18">WT1</text>
<rect x="239.42" y="448.62" width="5.6" height="6.25" fill="#2c4a80"/>
<rect x="239.42" y="454.88" width="5.6" height="3.12" fill="#68a93c"/>
<text transform="translate(244.62 464) rotate(-90)" font-size="7.3" font-style="italic" text-anchor="end" fill="#141414" stroke="#141414" stroke-width="0.18">FLT3</text>
<rect x="247.56" y="451.75" width="5.6" height="6.25" fill="#2c4a80"/>
<text transform="translate(252.76 464) rotate(-90)" font-size="7.3" font-style="italic" text-anchor="end" fill="#141414" stroke="#141414" stroke-width="0.18">del(5q)</text>
<rect x="255.69" y="451.75" width="5.6" height="3.12" fill="#2c4a80"/>
<rect x="255.69" y="454.88" width="5.6" height="3.12" fill="#68a93c"/>
<text transform="translate(260.89 464) rotate(-90)" font-size="7.3" font-style="italic" text-anchor="end" fill="#141414" stroke="#141414" stroke-width="0.18">del(3)</text>
<rect x="263.82" y="451.75" width="5.6" height="6.25" fill="#68a93c"/>
<text transform="translate(269.02 464) rotate(-90)" font-size="7.3" font-style="italic" text-anchor="end" fill="#141414" stroke="#141414" stroke-width="0.18">CUX1</text>
<rect x="271.96" y="451.75" width="5.6" height="6.25" fill="#68a93c"/>
<text transform="translate(277.16 464) rotate(-90)" font-size="7.3" font-style="italic" text-anchor="end" fill="#141414" stroke="#141414" stroke-width="0.18">RAD21</text>
<rect x="280.09" y="451.75" width="5.6" height="3.12" fill="#2c4a80"/>
<rect x="280.09" y="454.88" width="5.6" height="3.12" fill="#68a93c"/>
<text transform="translate(285.29 464) rotate(-90)" font-size="7.3" font-style="italic" text-anchor="end" fill="#141414" stroke="#141414" stroke-width="0.18">KDM6A</text>
<rect x="288.22" y="451.75" width="5.6" height="3.12" fill="#2c4a80"/>
<rect x="288.22" y="454.88" width="5.6" height="3.12" fill="#68a93c"/>
<text transform="translate(293.42 464) rotate(-90)" font-size="7.3" font-style="italic" text-anchor="end" fill="#141414" stroke="#141414" stroke-width="0.18">del(7q)</text>
<rect x="296.36" y="454.88" width="5.6" height="3.12" fill="#68a93c"/>
<text transform="translate(301.56 464) rotate(-90)" font-size="7.3" font-style="italic" text-anchor="end" fill="#141414" stroke="#141414" stroke-width="0.18">ARID</text>
<rect x="304.49" y="454.88" width="5.6" height="3.12" fill="#2c4a80"/>
<text transform="translate(309.69 464) rotate(-90)" font-size="7.3" font-style="italic" text-anchor="end" fill="#141414" stroke="#141414" stroke-width="0.18">XPC</text>
<rect x="312.62" y="454.88" width="5.6" height="3.12" fill="#2c4a80"/>
<text transform="translate(317.82 464) rotate(-90)" font-size="7.3" font-style="italic" text-anchor="end" fill="#141414" stroke="#141414" stroke-width="0.18">ATRX</text>
<rect x="320.75" y="454.88" width="5.6" height="3.12" fill="#68a93c"/>
<text transform="translate(325.95 464) rotate(-90)" font-size="7.3" font-style="italic" text-anchor="end" fill="#141414" stroke="#141414" stroke-width="0.18">BCOR</text>
<rect x="328.89" y="454.88" width="5.6" height="3.12" fill="#2c4a80"/>
<text transform="translate(334.09 464) rotate(-90)" font-size="7.3" font-style="italic" text-anchor="end" fill="#141414" stroke="#141414" stroke-width="0.18">GATA2</text>
<rect x="337.02" y="454.88" width="5.6" height="3.12" fill="#68a93c"/>
<text transform="translate(342.22 464) rotate(-90)" font-size="7.3" font-style="italic" text-anchor="end" fill="#141414" stroke="#141414" stroke-width="0.18">ETV6</text>
<rect x="345.15" y="454.88" width="5.6" height="3.12" fill="#2c4a80"/>
<text transform="translate(350.35 464) rotate(-90)" font-size="7.3" font-style="italic" text-anchor="end" fill="#141414" stroke="#141414" stroke-width="0.18">SMC3</text>
<rect x="353.29" y="454.88" width="5.6" height="3.12" fill="#68a93c"/>
<text transform="translate(358.49 464) rotate(-90)" font-size="7.3" font-style="italic" text-anchor="end" fill="#141414" stroke="#141414" stroke-width="0.18">BRAF</text>
<rect x="361.42" y="454.88" width="5.6" height="3.12" fill="#68a93c"/>
<text transform="translate(366.62 464) rotate(-90)" font-size="7.3" font-style="italic" text-anchor="end" fill="#141414" stroke="#141414" stroke-width="0.18">PTEN</text>
<rect x="369.55" y="454.88" width="5.6" height="3.12" fill="#68a93c"/>
<text transform="translate(374.75 464) rotate(-90)" font-size="7.3" font-style="italic" text-anchor="end" fill="#141414" stroke="#141414" stroke-width="0.18">NOTCH1</text>
<rect x="377.69" y="454.88" width="5.6" height="3.12" fill="#2c4a80"/>
<text transform="translate(382.89 464) rotate(-90)" font-size="7.3" font-style="italic" text-anchor="end" fill="#141414" stroke="#141414" stroke-width="0.18">KMT2D</text>
<path d="M31.9 458.00H34.9M31.9 442.38H34.9M31.9 426.75H34.9M31.9 411.12H34.9M31.9 395.50H34.9M31.9 379.88H34.9M38.90 458.0V460.5M47.03 458.0V460.5M55.17 458.0V460.5M63.30 458.0V460.5M71.43 458.0V460.5M79.56 458.0V460.5M87.70 458.0V460.5M95.83 458.0V460.5M103.96 458.0V460.5M112.10 458.0V460.5M120.23 458.0V460.5M128.36 458.0V460.5M136.50 458.0V460.5M144.63 458.0V460.5M152.76 458.0V460.5M160.90 458.0V460.5M169.03 458.0V460.5M177.16 458.0V460.5M185.29 458.0V460.5M193.43 458.0V460.5M201.56 458.0V460.5M209.69 458.0V460.5M217.83 458.0V460.5M225.96 458.0V460.5M234.09 458.0V460.5M242.22 458.0V460.5M250.36 458.0V460.5M258.49 458.0V460.5M266.62 458.0V460.5M274.76 458.0V460.5M282.89 458.0V460.5M291.02 458.0V460.5M299.16 458.0V460.5M307.29 458.0V460.5M315.42 458.0V460.5M323.56 458.0V460.5M331.69 458.0V460.5M339.82 458.0V460.5M347.95 458.0V460.5M356.09 458.0V460.5M364.22 458.0V460.5M372.35 458.0V460.5M380.49 458.0V460.5" stroke="#222" stroke-width="0.8" fill="none"/>
<rect x="278.1" y="410" width="11.1" height="4.2" fill="#2c4a80"/>
<text x="292.1" y="414.8" font-size="7" fill="#141414" stroke="#141414" stroke-width="0.18">IL-6/pSTAT3_up</text>
<rect x="278.1" y="421" width="11.1" height="4.2" fill="#68a93c"/>
<text x="292.1" y="425.4" font-size="7" fill="#141414" stroke="#141414" stroke-width="0.18">IL-6/pSTAT3_down</text>
<text transform="translate(14.4 417) rotate(-90) scale(0.79 1)" font-size="8" text-anchor="middle" fill="#141414" stroke="#141414" stroke-width="0.32">Number of patients</text>
</svg>
<div id="frame"></div>
</div>
</body></html>
